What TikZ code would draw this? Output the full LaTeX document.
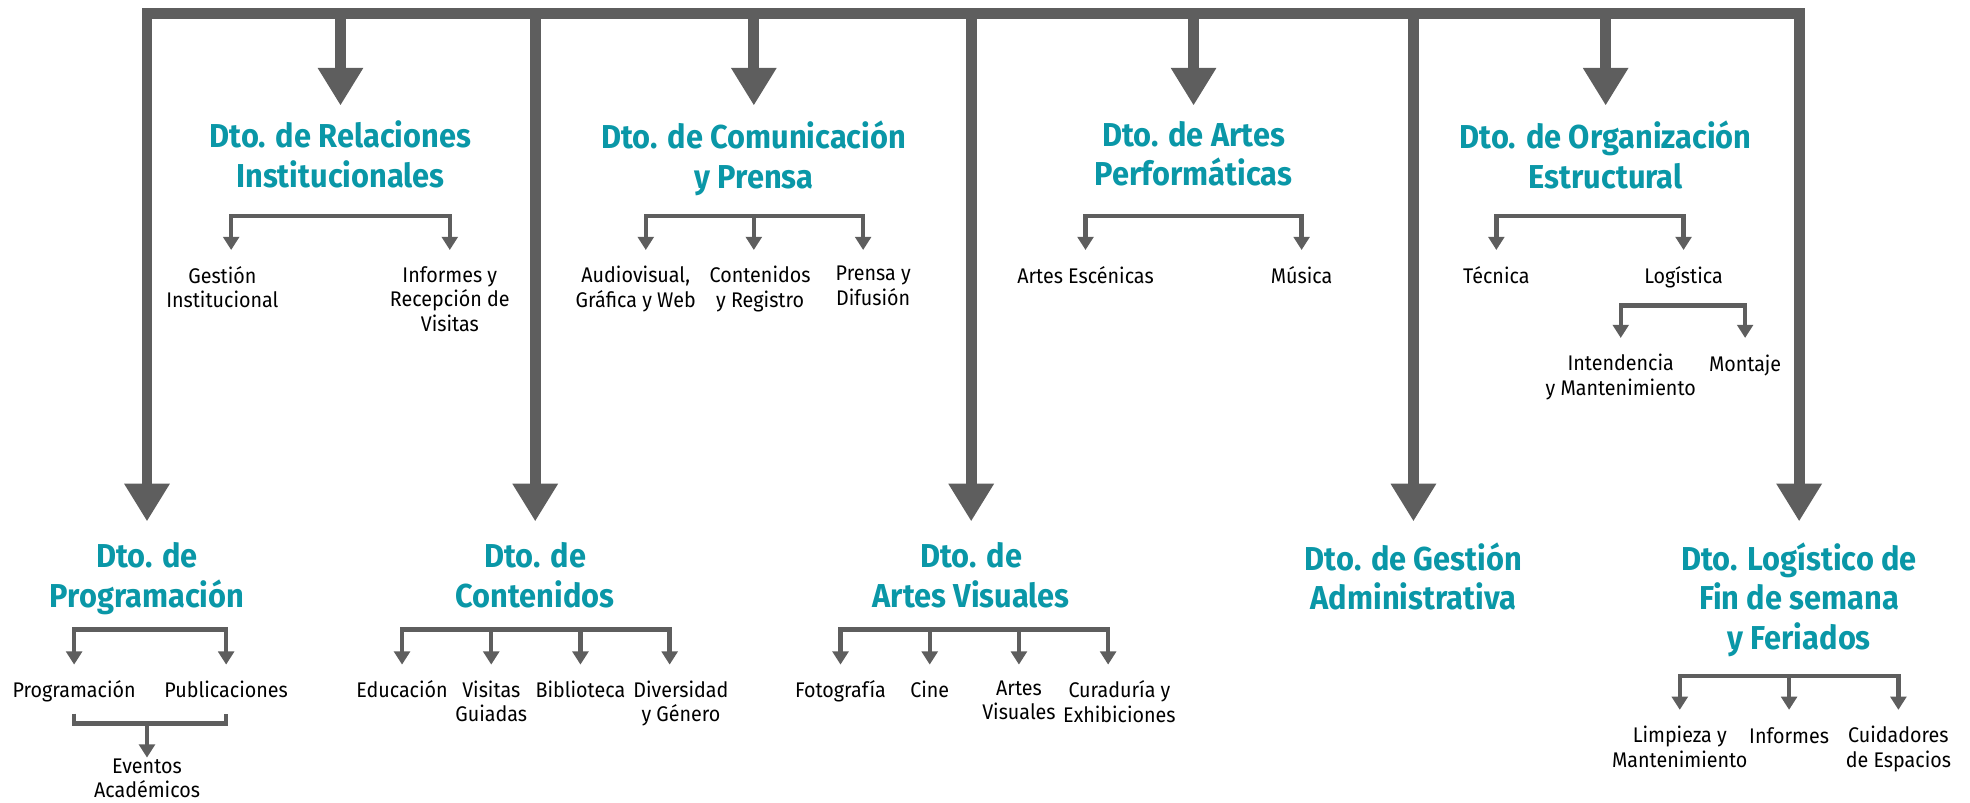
\documentclass[tikz,border=0pt]{standalone}
\usepackage{fontspec}
\setmainfont[FakeStretch=0.93]{Fira Sans}
\usetikzlibrary{arrows.meta,positioning}
\definecolor{linegray}{HTML}{5E5E5E}
\definecolor{deptteal}{HTML}{0A97A7}
\tikzset{
  dept/.style={anchor=north,align=center,text=deptteal,inner xsep=0pt,inner ysep=0.24cm,
    font=\fontsize{15}{18}\selectfont\bfseries,execute at begin node=\strut},
  deptlow/.style={dept,inner ysep=0.33cm},
  unit/.style={anchor=north,align=center,inner xsep=0pt,inner ysep=0.25cm,
    font=\fontsize{9.6}{11.1}\selectfont,execute at begin node=\strut},
  bigarrow/.style={draw=linegray,line width=0.175cm,-{Triangle[width=0.684cm,length=0.6cm]}},
  bus/.style={bigarrow,{Triangle[width=0.684cm,length=0.6cm]}-{Triangle[width=0.684cm,length=0.6cm]}},
  branch/.style={draw=linegray,line width=0.07cm},
  subarrow/.style={branch,-{Triangle[width=0.25cm,length=0.21cm]}},
  fork/.style={subarrow,{Triangle[width=0.25cm,length=0.21cm]}-{Triangle[width=0.25cm,length=0.21cm]}}
}
\begin{document}
\begin{tikzpicture}[x=0.02cm,y=-0.02cm]
\useasboundingbox (0,0) rectangle (1568,639);
\coordinate (bus) at (0,10.7);

% departamentos, fila superior
\node[dept] (rel) at (271,84) {Dto. de Relaciones\\Institucionales};
\node[dept] (com) at (600,84) {Dto. de Comunicación\\y Prensa};
\node[dept] (perf) at (950,84) {Dto. de Artes\\Performáticas};
\node[dept] (org) at (1278,84) {Dto. de Organización\\Estructural};

% departamentos, fila inferior
\node[deptlow] (prog) at (117,415) {Dto. de\\Programación};
\node[deptlow] (cont) at (426,415) {Dto. de\\Contenidos};
\node[deptlow] (vis) at (773,415) {Dto. de\\Artes Visuales};
\node[deptlow] (adm) at (1125,415) {Dto. de Gestión\\Administrativa};
\node[deptlow] (fin) at (1432,415) {Dto. Logístico de\\Fin de semana\\y Feriados};

\draw[bus] (prog.north) |- (bus -| fin.north) -- (fin.north);
\foreach \d in {rel,com,perf,org,cont,vis,adm}
  \draw[bigarrow] (bus -| \d.north) -- (\d.north);

% Relaciones Institucionales
\coordinate (rel-b) at (0,172);
\coordinate (gest-t) at (184,199);
\node[unit] (gest) at ([xshift=-0.14cm]gest-t) {Gestión\\Institucional};
\node[unit] (infvis) at (358,199) {Informes y\\Recepción de\\Visitas};
\draw[fork] (gest-t) |- (rel-b -| infvis.north) -- (infvis.north);

% Comunicacion y Prensa
\coordinate (com-b) at (0,172);
\coordinate (audio-t) at (514,199);
\coordinate (contreg-t) at (600,199);
\coordinate (difus-t) at (687,199);
\node[unit] (audio) at ([xshift=-0.16cm]audio-t) {Audiovisual,\\Gráfica y Web};
\node[unit] (contreg) at ([xshift=0.1cm]contreg-t) {Contenidos\\y Registro};
\node[unit] (difus) at ([xshift=0.16cm]difus-t) {Prensa y\\Difusión};
\draw[fork] (audio-t) |- (com-b -| difus-t) -- (difus-t);
\draw[subarrow] (com-b -| contreg-t) -- (contreg-t);

% Artes Performaticas
\coordinate (perf-b) at (0,172);
\node[unit] (escen) at (864,199) {Artes Escénicas};
\node[unit] (musica) at (1036,199) {Música};
\draw[fork] (escen.north) |- (perf-b -| musica.north) -- (musica.north);

% Organizacion Estructural
\coordinate (org-b) at (0,172);
\node[unit] (tecnica) at (1191,199) {Técnica};
\node[unit] (logist) at (1340,199) {Logística};
\draw[fork] (tecnica.north) |- (org-b -| logist.north) -- (logist.north);
\coordinate (log-b) at (0,243);
\node[unit] (intend) at (1290,269) {Intendencia\\y Mantenimiento};
\node[unit] (montaje) at (1389,269) {Montaje};
\draw[fork] (intend.north) |- (log-b -| montaje.north) -- (montaje.north);

% Programacion
\coordinate (prog-b) at (0,501);
\node[unit] (progr) at (59,529) {Programación};
\node[unit] (publ) at (180,529) {Publicaciones};
\draw[fork] (progr.north) |- (prog-b -| publ.north) -- (publ.north);
\coordinate (prog-s) at (0,568);
\coordinate (prog-j) at (117,576);
\node[unit,inner ysep=0.01cm] (event) at (117,603) {Eventos\\Académicos};
\draw[branch] (progr.north |- prog-s) |- (prog-j -| publ.north) -- (publ.north |- prog-s);
\draw[subarrow] (prog-j) -- (event.north);

% Contenidos
\coordinate (cont-b) at (0,501);
\coordinate (divers-t) at (533,529);
\node[unit] (educ) at (320,529) {Educación};
\node[unit] (guiad) at (391,529) {Visitas\\Guiadas};
\node[unit] (biblio) at (462,529) {Biblioteca};
\node[unit] (divers) at ([xshift=0.18cm]divers-t) {Diversidad\\y Género};
\draw[fork] (educ.north) |- (cont-b -| divers-t) -- (divers-t);
\foreach \c in {guiad,biblio}
  \draw[subarrow] (cont-b -| \c.north) -- (\c.north);

% Artes Visuales
\coordinate (vis-b) at (0,501);
\coordinate (curad-t) at (882,529);
\node[unit] (foto) at (669,529) {Fotografía};
\node[unit] (cine) at (740,529) {Cine};
\node[unit] (artvis) at (811,529) {Artes\\Visuales};
\node[unit] (curad) at ([xshift=0.18cm]curad-t) {Curaduría y\\Exhibiciones};
\draw[fork] (foto.north) |- (vis-b -| curad-t) -- (curad-t);
\foreach \c in {cine,artvis}
  \draw[subarrow] (vis-b -| \c.north) -- (\c.north);

% Fin de semana y Feriados
\coordinate (fin-b) at (0,538);
\node[unit] (limp) at (1337,565) {Limpieza y\\Mantenimiento};
\node[unit] (informes) at (1424,565) {Informes};
\node[unit] (cuid) at (1511,565) {Cuidadores\\de Espacios};
\draw[fork] (limp.north) |- (fin-b -| cuid.north) -- (cuid.north);
\draw[subarrow] (fin-b -| informes.north) -- (informes.north);
\end{tikzpicture}
\end{document}
